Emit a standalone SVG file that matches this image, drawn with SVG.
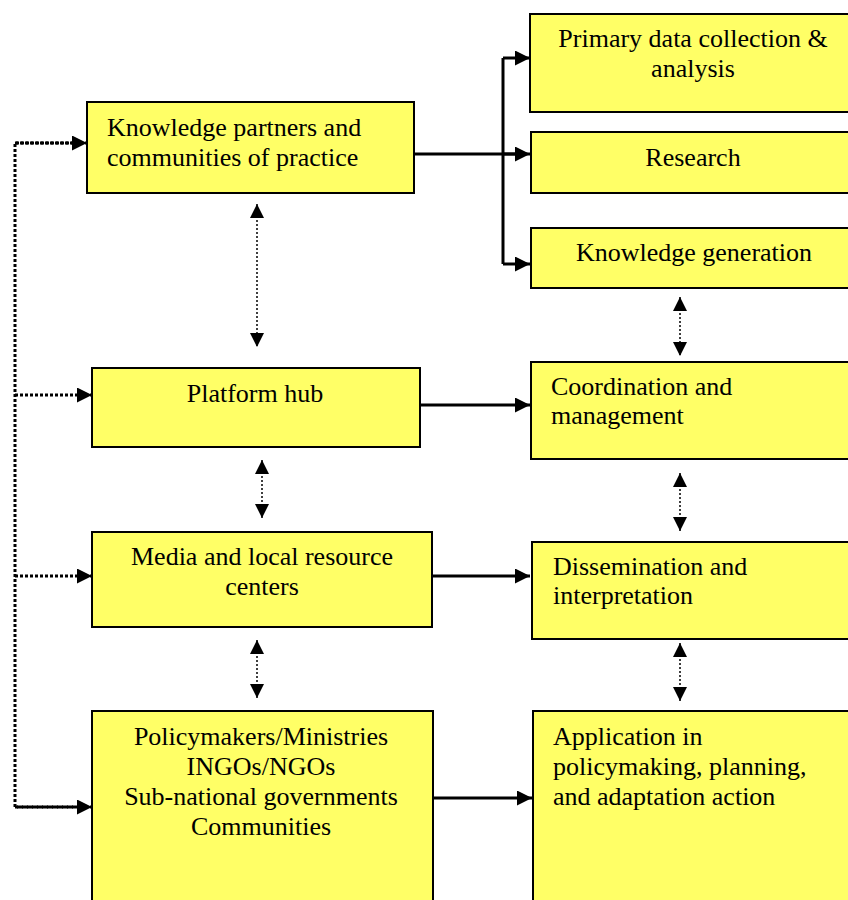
<svg xmlns="http://www.w3.org/2000/svg" width="848" height="900" viewBox="0 0 848 900">
<style>
.box{fill:#ffff66;stroke:#000;stroke-width:2}
.c{text-anchor:middle}
.solid{fill:none;stroke:#000;stroke-width:3}
.dotbig{fill:none;stroke:#000;stroke-width:3;stroke-dasharray:3 2}
.dotthin{fill:none;stroke:#000;stroke-width:1.5;stroke-dasharray:2 2}
</style>
<defs>
<marker id="ah" markerUnits="userSpaceOnUse" markerWidth="16" markerHeight="15" refX="15" refY="7.5" orient="auto-start-reverse"><path d="M0,0 L15,7.5 L0,15 z" fill="#000"/></marker>
<marker id="ah2" markerUnits="userSpaceOnUse" markerWidth="15" markerHeight="14" refX="14" refY="7" orient="auto-start-reverse"><path d="M0,0 L14,7 L0,14 z" fill="#000"/></marker>
</defs>
<rect width="848" height="900" fill="#fff"/>
<g id="connectors">
<path class="solid" d="M414,154 H516"/>
<path class="solid" d="M503,58 V264"/>
<path class="solid" d="M503,58 H530" marker-end="url(#ah)"/>
<path class="solid" d="M503,154 H530" marker-end="url(#ah)"/>
<path class="solid" d="M503,264 H530" marker-end="url(#ah)"/>
<path class="solid" d="M420,405 H530" marker-end="url(#ah)"/>
<path class="solid" d="M432,576 H530" marker-end="url(#ah)"/>
<path class="solid" d="M433,798 H532" marker-end="url(#ah)"/>
<path class="dotbig" d="M74,143 H15 V807 H78"/>
<path class="dotbig" d="M15,143 H87" marker-end="url(#ah)"/>
<path class="dotbig" d="M15,395 H92" marker-end="url(#ah)"/>
<path class="dotbig" d="M15,576 H92" marker-end="url(#ah)"/>
<path class="dotbig" d="M15,807 H92" marker-end="url(#ah)"/>
<path class="dotthin" d="M257,204 V347" marker-start="url(#ah2)" marker-end="url(#ah2)"/>
<path class="dotthin" d="M262,460 V518" marker-start="url(#ah2)" marker-end="url(#ah2)"/>
<path class="dotthin" d="M257,640 V698" marker-start="url(#ah2)" marker-end="url(#ah2)"/>
<path class="dotthin" d="M680,297 V356" marker-start="url(#ah2)" marker-end="url(#ah2)"/>
<path class="dotthin" d="M680,473 V531" marker-start="url(#ah2)" marker-end="url(#ah2)"/>
<path class="dotthin" d="M680,643 V701" marker-start="url(#ah2)" marker-end="url(#ah2)"/>
</g>
<g font-family="Liberation Serif, Times New Roman, serif" font-size="26" fill="#000">
<g id="knowledge-partners">
<rect class="box" x="87" y="102" width="327" height="91"/>
<text x="107" y="136">Knowledge partners and</text>
<text x="107" y="166">communities of practice</text>
</g>
<g id="primary-data">
<rect class="box" x="530" y="14" width="330" height="98"/>
<text class="c" x="693" y="47">Primary data collection &amp;</text>
<text class="c" x="693" y="77">analysis</text>
</g>
<g id="research">
<rect class="box" x="531" y="132" width="330" height="61"/>
<text class="c" x="693" y="166">Research</text>
</g>
<g id="knowledge-generation">
<rect class="box" x="531" y="228" width="330" height="60"/>
<text class="c" x="694" y="261">Knowledge generation</text>
</g>
<g id="platform-hub">
<rect class="box" x="92" y="368" width="328" height="79"/>
<text class="c" x="255" y="402">Platform hub</text>
</g>
<g id="coordination">
<rect class="box" x="531" y="362" width="330" height="97"/>
<text x="551" y="395">Coordination and</text>
<text x="551" y="424">management</text>
</g>
<g id="media">
<rect class="box" x="92" y="532" width="340" height="95"/>
<text class="c" x="262" y="565">Media and local resource</text>
<text class="c" x="262" y="595">centers</text>
</g>
<g id="dissemination">
<rect class="box" x="532" y="542" width="330" height="97"/>
<text x="553" y="575">Dissemination and</text>
<text x="553" y="604">interpretation</text>
</g>
<g id="policymakers">
<rect class="box" x="92" y="711" width="341" height="200"/>
<text class="c" x="261" y="745">Policymakers/Ministries</text>
<text class="c" x="261" y="775">INGOs/NGOs</text>
<text class="c" x="261" y="805">Sub-national governments</text>
<text class="c" x="261" y="835">Communities</text>
</g>
<g id="application">
<rect class="box" x="533" y="711" width="330" height="200"/>
<text x="553" y="745">Application in</text>
<text x="553" y="775">policymaking, planning,</text>
<text x="553" y="805">and adaptation action</text>
</g>
</g>
</svg>
